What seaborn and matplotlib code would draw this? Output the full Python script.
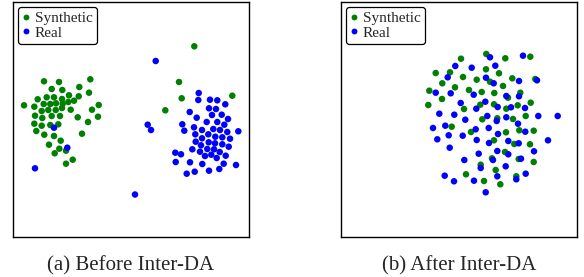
import numpy as np
import pandas as pd
import matplotlib
matplotlib.use("Agg")
import matplotlib.pyplot as plt
import seaborn as sns

# point positions (image pixel units, y grows downward)
a_syn_x = [44, 59, 90.3, 51.7, 62.3, 79.3, 89, 46.7, 54, 69, 78.7, 37.7, 62, 74, 24, 34.3,
           43.7, 50.3, 56, 62.7, 68.3, 92, 98.7, 41.7, 48.3, 55.7, 62, 70.7, 35, 42.3, 51.7,
           60, 77.7, 98, 34.3, 41.7, 50.3, 58.3, 88, 36.3, 44.3, 54, 82, 60.7, 49, 59.3, 66,
           54.7, 72.7, 66, 194.3, 179, 181.7, 232.3, 165.3]
a_syn_y = [81.3, 82, 79.3, 89, 90, 87, 92.7, 97.3, 97.3, 95.3, 96.3, 99.3, 99, 100.7, 105.3, 106.7,
           104, 104, 103.3, 103.7, 102, 109.7, 105, 111, 110, 110, 108, 109.7, 115.7, 118, 116,
           116, 117.3, 116.7, 123.7, 125.7, 125, 124.3, 122, 131, 134.7, 136, 133.7, 140.7, 144.7, 148.7, 150.7,
           153.3, 159.7, 163.7, 46.3, 82, 98.3, 95.7, 110.3]

a_real_x = [54, 67.3, 35, 135, 147.7, 151, 155.7,
            198.7, 198.3, 210, 217.3, 225.3, 209, 216, 189.7, 212, 221.7, 196.7, 228, 182.3,
            206.7, 217.3, 224.3, 194, 202, 213.3, 220, 238.3, 184.3, 195.3, 208.3, 215.3, 222.3,
            227.3, 202, 230, 195.7, 208.7, 215, 222.3, 201, 228.7, 192.3, 207.3, 214, 200, 219.7,
            175.3, 181, 205, 211.3, 216.7, 225.7, 175.7, 190, 202.3, 223.7, 236, 186.7, 194.7, 209, 219.3]
a_real_y = [127.7, 147.7, 168.3, 194.5, 124.7, 130, 61,
            93, 100, 99.7, 100.3, 104.3, 108.3, 109, 112, 115, 114.7, 117.7, 119, 124.3,
            122, 122, 124.7, 127.3, 130, 129, 130, 131.3, 130.7, 134.3, 134.3, 136.7, 137.3,
            132, 138.3, 138.7, 141.7, 142.3, 143.3, 144.3, 145.3, 146.7, 149.3, 149, 149.3, 151.7, 152,
            152.7, 154.3, 156, 154.7, 158, 155.7, 162, 162.3, 164, 163.7, 165, 173.7, 171.7, 170.7, 169]

b_syn_x = [435.7, 450, 442.3, 429.3, 455, 442, 428.3,
           486.3, 530.3, 505.3, 461, 486, 499, 463, 476.7, 512.3, 490, 503, 469, 481.7, 494.3,
           520.3, 508, 535.3, 530.7, 480.3, 494, 517.7, 464, 506.3,
           451.7, 482.3, 497.3, 471, 506, 494, 505, 492, 480.7, 495.7, 466, 484, 500.3,
           513, 525.7, 519.3, 533.7, 514.3, 530, 518.7, 533.7, 516.3]
b_syn_y = [73, 72.3, 83.3, 90.7, 87.3, 99, 105,
           54, 56.7, 58.3, 58.7, 69.3, 73.3, 77, 79.7, 78.3, 81.7, 86, 90, 92, 93,
           92.7, 97.7, 79, 102.7, 104.7, 104.3, 105.3, 109, 108.7,
           126.7, 119.3, 118.3, 132, 132.3, 140.3, 152, 158.3, 164.7, 170, 174.3, 181, 184.3,
           119, 116, 130.3, 130.7, 144, 144.3, 159, 162, 176.3]

b_real_x = [455.3, 447.7, 435.7, 450.7,
            490, 523, 495.3, 471.7, 486, 519, 537, 493.7, 473.7, 506.3, 519, 460.7, 485.3, 497.7,
            511, 525, 476.3,
            439.3, 454.3, 465.3, 487.3, 496.7, 506.3, 445.3, 433, 475.7, 488.7, 448.7, 462.7, 498,
            437.3, 476.7, 489, 508.3, 449.7, 478.7, 497.3, 508.3, 464.3, 493, 480.7, 505.7, 444.7,
            454, 474, 497.3, 485.7,
            518, 538.3, 557.7, 525.3, 518.7, 548, 534, 521, 525.7, 516.3]
b_real_y = [66, 77.3, 92.7, 93.3,
            57.3, 55.7, 65.7, 67.7, 77.7, 81, 80.3, 83.3, 94.7, 96, 96.3, 103, 101.7, 107,
            107.3, 108, 108.7,
            113.7, 114.7, 119.7, 116, 121, 117.3, 125.7, 128, 129.3, 128, 135.3, 135.7, 134,
            139.3, 140, 143, 141, 147.7, 153.7, 151, 154.3, 160, 160, 168, 166.3, 175.7,
            181.3, 180.7, 176.3, 192.3,
            123.7, 116, 116, 131.7, 143.3, 140.3, 151.3, 158.7, 173.7, 179.3]

labels = ["Synthetic", "Real"]
captions = ["(a) Before Inter-DA", "(b) After Inter-DA"]

sns.set_style("white")
plt.rcParams["font.family"] = ["Liberation Serif", "DejaVu Serif"]

fig = plt.figure(figsize=(5.84, 2.77), dpi=100)
W, H = 584, 277
panels = [
    (13, 249, a_syn_x, a_syn_y, a_real_x, a_real_y),
    (341, 577, b_syn_x, b_syn_y, b_real_x, b_real_y),
]
top, bottom = 2, 237

for i, (x0, x1, sx, sy, rx, ry) in enumerate(panels):
    ax = fig.add_axes([x0 / W, 1 - bottom / H, (x1 - x0) / W, (bottom - top) / H])
    df = pd.DataFrame({
        "x": sx + rx,
        "y": sy + ry,
        "kind": [labels[0]] * len(sx) + [labels[1]] * len(rx),
    })
    sns.scatterplot(data=df, x="x", y="y", hue="kind", hue_order=labels,
                    palette={"Synthetic": "green", "Real": "blue"},
                    s=22, linewidth=0, ax=ax)
    ax.set_xlim(x0, x1)
    ax.set_ylim(bottom, top)
    ax.set_xticks([])
    ax.set_yticks([])
    ax.set_xlabel("")
    ax.set_ylabel("")
    for sp in ax.spines.values():
        sp.set_color("black")
        sp.set_linewidth(1.0)
    handles, labs = ax.get_legend_handles_labels()
    leg = ax.legend(handles, labs, loc="upper left",
                    bbox_to_anchor=(5 / (x1 - x0), 1 - 5 / (bottom - top)),
                    borderaxespad=0, fontsize=11, handlelength=0.4,
                    handletextpad=0.4, borderpad=0.3, labelspacing=0.05,
                    markerscale=0.9, frameon=True, fancybox=True)
    leg.get_frame().set_edgecolor("black")
    leg.get_frame().set_linewidth(0.9)
    leg.get_frame().set_alpha(1)
    fig.text(((x0 + x1) / 2) / W, 7 / H, captions[i], ha="center", va="baseline",
             fontsize=15)

fig.savefig("out.png", dpi=100)
